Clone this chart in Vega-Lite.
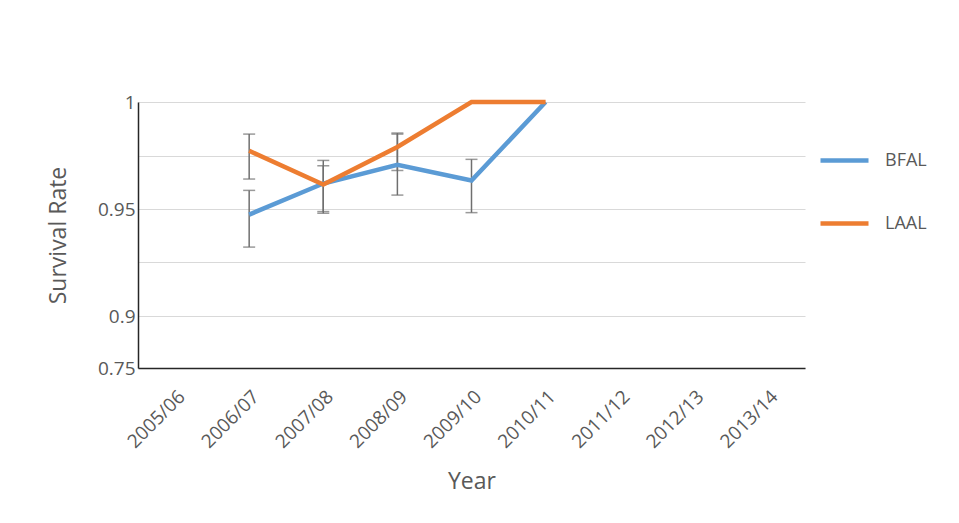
{
  "$schema": "https://vega.github.io/schema/vega-lite/v6.json",
  "width": 667,
  "height": 266,
  "autosize": "none",
  "padding": {"left": 138, "top": 102, "right": 154, "bottom": 155},
  "background": "white",
  "config": {
    "font": "Open Sans",
    "view": {"stroke": null}
  },
  "datasets": {
    "series": [
      {"year": "2006/07", "species": "BFAL", "rate": 0.9474},
      {"year": "2007/08", "species": "BFAL", "rate": 0.9619},
      {"year": "2008/09", "species": "BFAL", "rate": 0.9707},
      {"year": "2009/10", "species": "BFAL", "rate": 0.9633},
      {"year": "2010/11", "species": "BFAL", "rate": 1.0},
      {"year": "2006/07", "species": "LAAL", "rate": 0.9772},
      {"year": "2007/08", "species": "LAAL", "rate": 0.9614},
      {"year": "2008/09", "species": "LAAL", "rate": 0.979},
      {"year": "2009/10", "species": "LAAL", "rate": 1.0},
      {"year": "2010/11", "species": "LAAL", "rate": 1.0}
    ],
    "errors": [
      {"year": "2006/07", "species": "BFAL", "lower": 0.9322, "upper": 0.9587},
      {"year": "2006/07", "species": "LAAL", "lower": 0.964, "upper": 0.985},
      {"year": "2007/08", "species": "BFAL", "lower": 0.948, "upper": 0.9702},
      {"year": "2007/08", "species": "LAAL", "lower": 0.9488, "upper": 0.9727},
      {"year": "2008/09", "species": "BFAL", "lower": 0.9565, "upper": 0.985},
      {"year": "2008/09", "species": "LAAL", "lower": 0.968, "upper": 0.9855},
      {"year": "2009/10", "species": "BFAL", "lower": 0.9483, "upper": 0.9732}
    ]
  },
  "encoding": {
    "x": {
      "field": "year",
      "type": "ordinal",
      "scale": {
        "type": "point",
        "padding": 0.5,
        "domain": ["2005/06", "2006/07", "2007/08", "2008/09", "2009/10", "2010/11", "2011/12", "2012/13", "2013/14"]
      },
      "axis": {
        "title": "Year",
        "titleFontSize": 23,
        "titleFontWeight": "normal",
        "titleColor": "#595959",
        "titlePadding": 19,
        "labelAngle": -45,
        "labelFontSize": 19,
        "labelColor": "#595959",
        "labelPadding": 19,
        "ticks": false,
        "domainColor": "#262626",
        "domainWidth": 1.5,
        "grid": false
      }
    }
  },
  "layer": [
    {
      "data": {"name": "errors"},
      "mark": {"type": "rule", "color": "#6f6f6f", "strokeWidth": 1.5},
      "encoding": {
        "y": {"field": "lower", "type": "quantitative"},
        "y2": {"field": "upper"}
      }
    },
    {
      "data": {"name": "errors"},
      "mark": {"type": "tick", "color": "#6f6f6f", "size": 12, "thickness": 1.5},
      "encoding": {
        "y": {"field": "lower", "type": "quantitative"}
      }
    },
    {
      "data": {"name": "errors"},
      "mark": {"type": "tick", "color": "#6f6f6f", "size": 12, "thickness": 1.5},
      "encoding": {
        "y": {"field": "upper", "type": "quantitative"}
      }
    },
    {
      "data": {"name": "series"},
      "mark": {"type": "line", "strokeWidth": 4.5},
      "encoding": {
        "y": {
          "field": "rate",
          "type": "quantitative",
          "scale": {"domain": [0.75, 0.9, 1], "range": [266, 214, 0], "nice": false, "zero": false},
          "axis": {
            "title": "Survival Rate",
            "titleFontSize": 23,
            "titleFontWeight": "normal",
            "titleColor": "#595959",
            "titlePadding": 27,
            "values": [0.75, 0.9, 0.925, 0.95, 0.975, 1],
            "labelExpr": "datum.value == 0.925 || datum.value == 0.975 ? '' : datum.value == 1 ? '1' : format(datum.value, '.2~f')",
            "labelFontSize": 19,
            "labelColor": "#595959",
            "labelPadding": 3,
            "ticks": false,
            "domainColor": "#262626",
            "domainWidth": 1.5,
            "grid": true,
            "gridColor": "#d9d9d9",
            "gridWidth": 1
          }
        },
        "color": {
          "field": "species",
          "type": "nominal",
          "scale": {"domain": ["BFAL", "LAAL"], "range": ["#5b9bd5", "#ed7d31"]},
          "legend": {
            "title": null,
            "orient": "none",
            "legendX": 680,
            "legendY": 32,
            "padding": 0,
            "symbolType": "stroke",
            "symbolSize": 2304,
            "symbolStrokeWidth": 4.5,
            "labelFontSize": 18,
            "labelColor": "#595959",
            "labelOffset": 14,
            "rowPadding": 27
          }
        }
      }
    }
  ]
}
